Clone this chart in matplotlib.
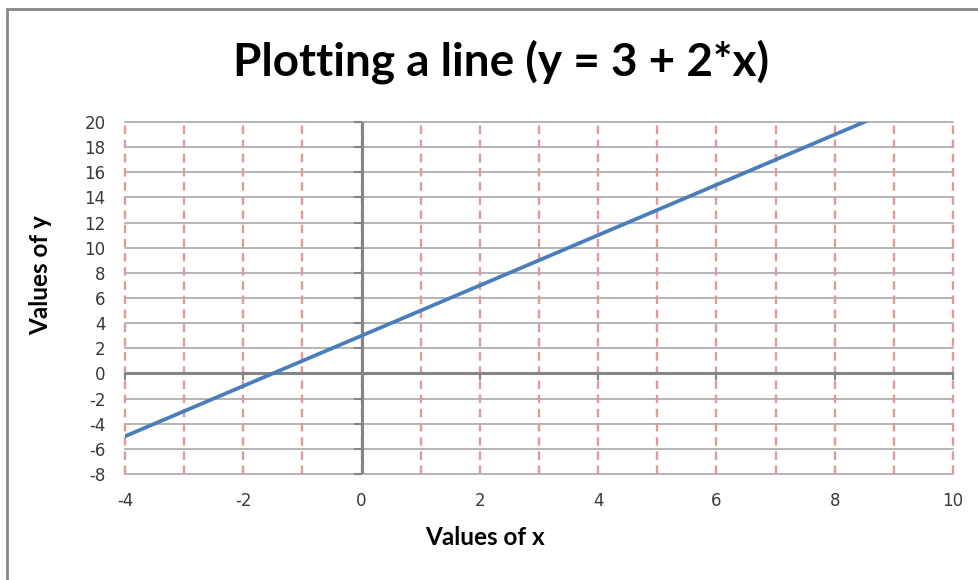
import numpy as np
import matplotlib.pyplot as plt
from matplotlib.patches import Rectangle

plt.rcParams['axes.unicode_minus'] = False

# data: y = 3 + 2*x
x_vals = [-4, -3, -2, -1, 0, 1, 2, 3, 4, 5, 6, 7, 8, 9, 10]
y_vals = [-5, -3, -1, 1, 3, 5, 7, 9, 11, 13, 15, 17, 19, 21, 23]
x_ticks = [-4, -2, 0, 2, 4, 6, 8, 10]
x_minor = [-4, -3, -2, -1, 0, 1, 2, 3, 4, 5, 6, 7, 8, 9, 10]
y_ticks = [-8, -6, -4, -2, 0, 2, 4, 6, 8, 10, 12, 14, 16, 18, 20]

fig = plt.figure(figsize=(9.79, 5.8), dpi=100)
ax = fig.add_axes([125 / 979, 1 - 474 / 580, 828 / 979, 352 / 580])

# grid: solid grey horizontals, dashed red verticals
for yv in y_ticks:
    ax.axhline(yv, color='#a0a0a0', lw=1.1, zorder=1, clip_on=False)
for xv in x_minor:
    ax.axvline(xv, color='#e09a9a', lw=1.7, ls=(0, (3.6, 2.4)), zorder=1.5, clip_on=False)

# axes through zero
ax.axhline(0, color='#858585', lw=2.2, zorder=2)
ax.axvline(0, color='#858585', lw=2.2, zorder=2)
ax.plot(np.zeros(len(y_ticks)), y_ticks, ls='none', marker=0, ms=6, mew=1.5,
        color='#858585', zorder=2, clip_on=False)
ax.plot(x_ticks, np.zeros(len(x_ticks)), ls='none', marker=3, ms=5, mew=1.5,
        color='#858585', zorder=2, clip_on=False)

ax.plot(x_vals, y_vals, color='#4a7ebb', lw=2.7, zorder=3)

ax.set_xlim(-4, 10)
ax.set_ylim(-8, 20)
ax.set_xticks(x_ticks)
ax.set_yticks(y_ticks)
ax.tick_params(length=0, labelsize=12, labelcolor='#3a3a3a')
ax.tick_params(axis='x', pad=13)
ax.tick_params(axis='y', pad=14)
for s in ax.spines.values():
    s.set_visible(False)

ax.set_xlabel('Values of x', family='Lato', fontweight='bold', fontsize=17.5)
ax.set_ylabel('Values of y', family='Lato', fontweight='bold', fontsize=17.5)
ax.xaxis.set_label_coords(0.435, -0.148)
ax.yaxis.set_label_coords(-0.088, 0.565)
fig.text(501 / 979, 1 - 62 / 580, 'Plotting a line (y = 3 + 2*x)', family='Lato',
         fontweight='bold', fontsize=33, ha='center', va='center')

fig.patches.append(Rectangle((7 / 979, -0.2), 1.2, 1.2 - 9 / 580, transform=fig.transFigure,
                             fill=False, edgecolor='#888888', lw=2))

fig.savefig('out.png', dpi=100)
